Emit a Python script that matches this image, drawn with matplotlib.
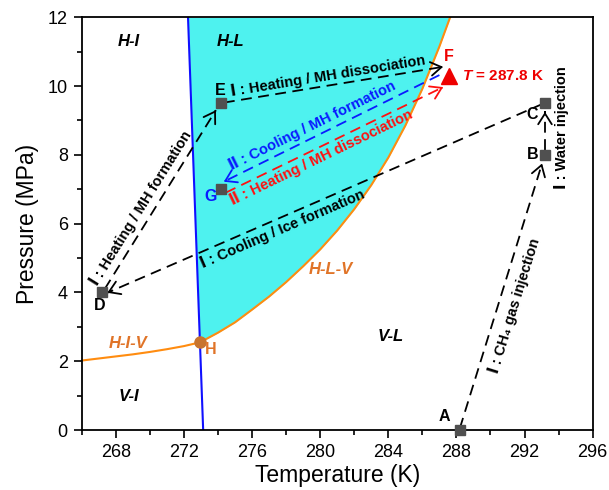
import numpy as np
import matplotlib
matplotlib.use('Agg')
import matplotlib.pyplot as plt

plt.rcParams['font.family'] = ['Liberation Sans', 'DejaVu Sans']
plt.rcParams['mathtext.fontset'] = 'custom'
plt.rcParams['mathtext.rm'] = 'Liberation Sans:bold'
plt.rcParams['mathtext.it'] = 'Liberation Sans:italic:bold'
plt.rcParams['mathtext.bf'] = 'Liberation Sans:bold'

# ice melting line (blue)
ice_T = [273.13, 272.24]
ice_P = [0.0, 12.0]
# H-I-V equilibrium
hiv_T = [266.0, 267.0, 268.0, 269.0, 270.0, 271.0, 272.0, 272.95]
hiv_P = [2.02, 2.08, 2.14, 2.20, 2.27, 2.35, 2.44, 2.55]
# H-L-V equilibrium
hlv_T = [272.95, 274, 275, 276, 277, 278, 279, 280, 281, 282, 283, 284, 285, 286, 287, 287.63]
hlv_P = [2.55, 2.83, 3.13, 3.50, 3.88, 4.30, 4.76, 5.25, 5.80, 6.42, 7.12, 7.92, 8.85, 9.92, 11.15, 12.0]

# state points
sq_names = ['A', 'B', 'C', 'D', 'E', 'G']
sq_T = [288.2, 293.2, 293.2, 267.2, 274.2, 274.2]
sq_P = [0.0, 8.0, 9.5, 4.0, 9.5, 7.0]
F_T, F_P = 287.56, 10.29
H_T, H_P = 272.95, 2.55

# process paths: start (T, P), end (T, P), colour, label
path_start = [(288.2, 0.05), (293.2, 8.15), (293.05, 9.48), (267.35, 4.1),
              (274.35, 9.52), (287.0, 10.32), (274.45, 6.9)]
path_end = [(293.03, 7.75), (293.2, 9.25), (267.5, 3.99), (273.88, 9.3),
            (287.22, 10.56), (274.34, 7.22), (287.22, 9.97)]
path_color = ['k', 'k', 'k', 'k', 'k', '#0a1aff', '#ff1010']
path_label = ['Ⅰ : CH₄ gas injection', 'Ⅰ : Water injection',
              'Ⅰ : Cooling / Ice formation', 'Ⅰ : Heating / MH formation',
              'Ⅰ : Heating / MH dissociation', 'Ⅱ : Cooling / MH formation',
              'Ⅱ : Heating / MH dissociation']
# where the label sits along the path and how far off it (px, + = above text)
label_frac = [0.48, 0.59, 0.607, 0.42, 0.48, 0.568, 0.42]
label_off = [-16, -17, -11, 12, 10, 11, -10]

fig = plt.figure(figsize=(6.09, 4.9), dpi=100)
ax = fig.add_axes([0.1342, 0.1224, 0.839, 0.8423])
ax.set_xlim(266, 296)
ax.set_ylim(0, 12)

cyan = '#4ef2ef'
orange = '#ff8c10'
brown = '#e07428'

pgrid = np.linspace(H_P, 12, 200)
left = np.interp(pgrid, ice_P, ice_T)
right = np.interp(pgrid, hlv_P, hlv_T)
ax.fill_betweenx(pgrid, left, right, color=cyan, lw=0, zorder=1)

ax.plot(ice_T, ice_P, color='#1010ff', lw=1.5, zorder=2)
ax.plot(hiv_T, hiv_P, color=orange, lw=1.5, zorder=2)
ax.plot(hlv_T, hlv_P, color=orange, lw=1.5, zorder=2)


def seg_angle(p0, p1):
    a = ax.transData.transform(p0)
    b = ax.transData.transform(p1)
    ang = np.degrees(np.arctan2(b[1] - a[1], b[0] - a[0]))
    if ang > 90:
        ang -= 180
    if ang < -90:
        ang += 180
    return ang


for s, e, c, lab, fr, off in zip(path_start, path_end, path_color, path_label,
                                 label_frac, label_off):
    ax.plot([s[0], e[0]], [s[1], e[1]], color=c, lw=1.3, ls=(0, (6, 3.6)), zorder=3)
    s_arr = np.array(s)
    e_arr = np.array(e)
    ax.annotate('', xy=e, xytext=tuple(e_arr - 0.01 * (e_arr - s_arr)),
                arrowprops=dict(arrowstyle='->,head_length=0.55,head_width=0.35',
                                color=c, lw=1.3, shrinkA=0, shrinkB=0,
                                mutation_scale=14), zorder=3)
    rot = seg_angle(s, e)
    mid = s_arr + fr * (e_arr - s_arr)
    r = np.radians(rot)
    dx, dy = -np.sin(r) * off * 0.72, np.cos(r) * off * 0.72
    ax.annotate(lab, xy=tuple(mid), xytext=(dx, dy), textcoords='offset points',
                color=c, fontsize=10.5, fontweight='bold', rotation=rot,
                rotation_mode='anchor', ha='center', va='center', zorder=4)

ax.plot(sq_T, sq_P, 's', color='#505050', ms=7, zorder=5, clip_on=False)
ax.plot(F_T, F_P, '^', color='#ee0000', ms=12, zorder=5)
ax.plot(H_T, H_P, 'o', color='#c8742e', ms=8, zorder=5)

# point labels
pl_names = ['A', 'B', 'C', 'D', 'E']
pl_T = [287.27, 292.46, 292.46, 267.04, 274.11]
pl_P = [0.39, 8.02, 9.16, 3.63, 9.88]
for n, t, p in zip(pl_names, pl_T, pl_P):
    ax.text(t, p, n, fontsize=11.5, fontweight='bold', ha='center', va='center', zorder=6)
ax.text(287.56, 10.85, 'F', color='#ee0000', fontsize=11.5, fontweight='bold',
        ha='center', va='center', zorder=6)
ax.text(273.54, 6.78, 'G', color='#0a1aff', fontsize=11.5, fontweight='bold',
        ha='center', va='center', zorder=6)
ax.text(273.6, 2.33, 'H', color=brown, fontsize=11.5, fontweight='bold',
        ha='center', va='center', zorder=6)
ax.text(288.3, 10.29, '$T$ = 287.8 K', color='#ee0000', fontsize=11, fontweight='bold',
        ha='left', va='center', zorder=6)

# region labels
reg_names = ['H-I', 'H-L', 'V-I', 'V-L']
reg_T = [268.75, 274.73, 268.75, 284.14]
reg_P = [11.29, 11.29, 0.97, 2.71]
for n, t, p in zip(reg_names, reg_T, reg_P):
    ax.text(t, p, n, fontsize=12, fontweight='bold', fontstyle='italic',
            ha='center', va='center', zorder=6)
ax.text(280.65, 4.67, 'H-L-V', color=brown, fontsize=12, fontweight='bold',
        fontstyle='italic', ha='center', va='center', zorder=6)
ax.text(268.75, 2.52, 'H-I-V', color=brown, fontsize=12, fontweight='bold',
        fontstyle='italic', ha='center', va='center', zorder=6)

ax.set_xticks(np.arange(268, 297, 4))
ax.set_xticks(np.arange(266, 297, 2), minor=True)
ax.set_yticks(np.arange(0, 13, 2))
ax.set_yticks(np.arange(0, 13, 1), minor=True)
ax.tick_params(which='major', direction='out', length=6, width=1.2, labelsize=13, pad=4)
ax.tick_params(which='minor', direction='out', length=3.5, width=1.2)
for sp in ax.spines.values():
    sp.set_linewidth(1.3)
ax.set_xlabel('Temperature (K)', fontsize=16.5, labelpad=2)
ax.set_ylabel('Pressure (MPa)', fontsize=16.5, labelpad=6)

fig.savefig('out.png', dpi=100)
